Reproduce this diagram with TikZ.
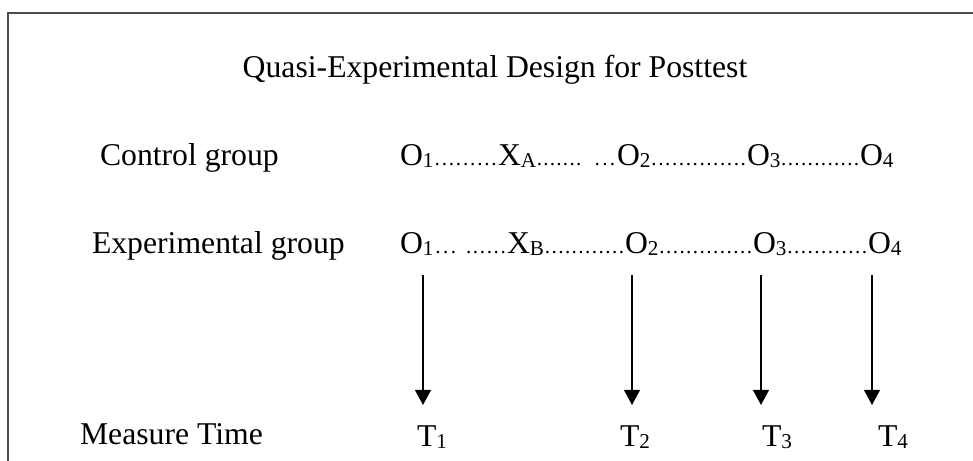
\documentclass[tikz,border=0pt]{standalone}
\usepackage{fontspec}
\setmainfont{Liberation Serif}
\usetikzlibrary{arrows.meta}
\newlength\pu
\setlength\pu{0.3785pt}
\newcommand\subf{\fontsize{8}{8}\selectfont}
\newcommand\mysub[1]{{\subf\raisebox{-0.5pt}{#1}}}
\newcommand\ldts{{\subf\xleaders\hbox to 6.5\pu{\hss.\hss}\hfill}}
\tikzset{
  txt/.style={inner sep=0pt,outer sep=0pt,anchor=base west,font=\fontsize{12}{14}\selectfont},
  frame/.style={draw=black!70,line width=0.75pt},
  measarrow/.style={line width=0.55pt,-{Triangle[width=6pt,length=5.7pt]}}
}
\begin{document}
\begin{tikzpicture}[x=0.3785pt,y=-0.3785pt]
\useasboundingbox (0,0) rectangle (973,461);
\draw[frame] (975,13) -- (8,13) -- (8,463);
\node[txt,anchor=base] (title) at (495,78) {Quasi-Experimental Design for Posttest};
% control row
\node[txt] (cl) at (100,166) {Control group};
\node[txt] (c1) at (400,166) {\hbox to 98\pu{O\mysub{1}\ldts}};
\node[txt] (cx) at (498,166) {\hbox to 119\pu{X\mysub{A}\ldts\hspace{11\pu}\hbox to 24\pu{\ldts}}};
\node[txt] (c2) at (617,166) {\hbox to 130\pu{O\mysub{2}\ldts}};
\node[txt] (c3) at (747,166) {\hbox to 113\pu{O\mysub{3}\ldts}};
\node[txt] (c4) at (860,166) {O\mysub{4}};
% experimental row
\node[txt] (el) at (92,254) {Experimental group};
\node[txt] (e1) at (400,254) {\hbox to 107\pu{O\mysub{1}\ldts\hspace{7\pu}\hbox to 42\pu{\ldts}}};
\node[txt] (ex) at (507,254) {\hbox to 118\pu{X\mysub{B}\ldts}};
\node[txt] (e2) at (625,254) {\hbox to 128\pu{O\mysub{2}\ldts}};
\node[txt] (e3) at (753,254) {\hbox to 115\pu{O\mysub{3}\ldts}};
\node[txt] (e4) at (868,254) {O\mysub{4}};
% measure time
\node[txt] (ml) at (80,445) {Measure Time};
\node[txt] (t1) at (417,447) {T\mysub{1}};
\node[txt] (t2) at (620,447) {T\mysub{2}};
\node[txt] (t3) at (762,447) {T\mysub{3}};
\node[txt] (t4) at (878,447) {T\mysub{4}};
% arrows
\coordinate (s1) at (423,275); \coordinate (f1) at (423,405);
\coordinate (s2) at (632,275); \coordinate (f2) at (632,405);
\coordinate (s3) at (761,275); \coordinate (f3) at (761,405);
\coordinate (s4) at (872,275); \coordinate (f4) at (872,405);
\draw[measarrow] (s1) -- (f1);
\draw[measarrow] (s2) -- (f2);
\draw[measarrow] (s3) -- (f3);
\draw[measarrow] (s4) -- (f4);
\end{tikzpicture}
\end{document}
